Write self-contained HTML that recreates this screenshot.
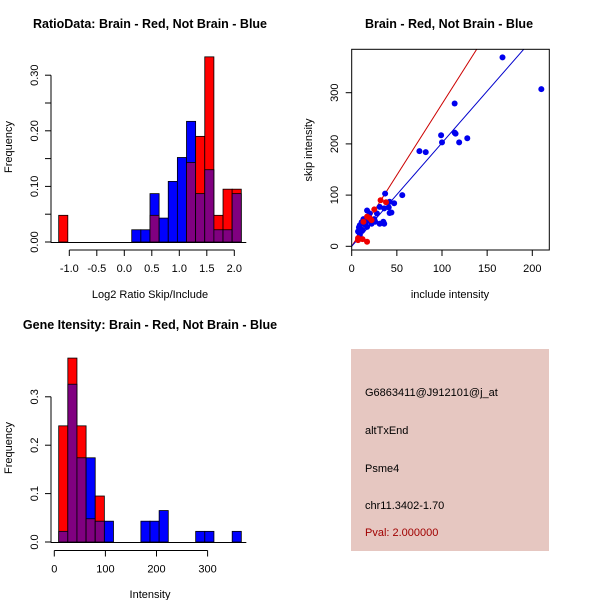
<!DOCTYPE html>
<html><head><meta charset="utf-8"><style>
body{margin:0;background:#fff}
svg{display:block;font-family:"Liberation Sans",sans-serif}
</style></head><body>
<svg id="s" width="600" height="600" xmlns="http://www.w3.org/2000/svg">
<rect width="600" height="600" fill="#fff"/>
<text x="150" y="28" font-size="12.5" font-weight="bold" text-anchor="middle">RatioData: Brain - Red, Not Brain - Blue</text>
<text x="449" y="28" font-size="12.5" font-weight="bold" text-anchor="middle">Brain - Red, Not Brain - Blue</text>
<text x="150" y="329" font-size="12.5" font-weight="bold" text-anchor="middle">Gene Itensity: Brain - Red, Not Brain - Blue</text>
<text x="150" y="298" font-size="11" text-anchor="middle">Log2 Ratio Skip/Include</text>
<text x="150" y="598" font-size="11" text-anchor="middle">Intensity</text>
<text x="450" y="298" font-size="11" text-anchor="middle">include intensity</text>
<text transform="translate(12,147) rotate(-90)" font-size="11" text-anchor="middle">Frequency</text>
<text transform="translate(12,448) rotate(-90)" font-size="11" text-anchor="middle">Frequency</text>
<text transform="translate(312,150) rotate(-90)" font-size="11" text-anchor="middle">skip intensity</text>
<g>
<rect x="351" y="349" width="198" height="202" fill="#e6c7c1"/>
<text x="365" y="396" font-size="11">G6863411@J912101@j_at</text>
<text x="365" y="434" font-size="11">altTxEnd</text>
<text x="365" y="472" font-size="11">Psme4</text>
<text x="365" y="509" font-size="11">chr11.3402-1.70</text>
<text x="365" y="536" font-size="11" fill="#a00000">Pval: 2.000000</text>
</g>
<g id="g1"></g><g id="g2"></g><g id="g3"></g>
</svg>
<script>
// Ratio histogram data
const ratioBinStart=-1.193, ratioBinWidth=0.166;
const ratioRed=[0.048,0,0,0,0,0,0,0,0,0,0.048,0,0,0,0.143,0.19,0.333,0.048,0.095,0.095];
const ratioBlue=[0,0,0,0,0,0,0,0,0.022,0.022,0.087,0.043,0.109,0.152,0.217,0.087,0.130,0.022,0.022,0.087];
const ratioXTicks=[-1.0,-0.5,0.0,0.5,1.0,1.5,2.0];
const ratioYTicks=[0,0.05,0.10,0.15,0.20,0.25,0.30];
const ratioYLabels=["0.00","","0.10","","0.20","","0.30"];
// Intensity histogram data
const intBinStart=8.6, intBinWidth=17.87;
const intRed=[0.24,0.38,0.24,0.048,0.095,0,0,0,0,0,0,0,0,0,0,0,0,0,0,0];
const intBlue=[0.022,0.326,0.174,0.174,0.043,0.043,0,0,0,0.043,0.043,0.065,0,0,0,0.022,0.022,0,0,0.022];
const intXTicks=[0,100,200,300];
const intYTicks=[0,0.1,0.2,0.3];
// Scatter data
const blueX=[167,210,114,99,100,114,115,119,128,75,82,56,37,42,47,41,44,42,31,36,35,36,31,28,25,20,17,16,13,11,9,8,7,9,12,15,18,22,12,10,17,26];
const blueY=[369,307,279,217,203,222,220,203,211,186,184,100,103,87,84,76,66,65,77,74,48,44,44,64,53,64,70,48,53,47,41,37,29,22,45,42,51,44,31,34,38,48];
const redX=[32,38,25,20,17,22,7,7,17,12,13];
const redY=[90,86,72,55,58,51,16,12,9,14,48];
const redSlope=2.78, blueSlope=2.02;
const scXTicks=[0,50,100,150,200];
const scYTicks=[0,100,200,300];

const NS="http://www.w3.org/2000/svg";
function mk(p,t,a){const e=document.createElementNS(NS,t);for(const k in a)e.setAttribute(k,a[k]);p.appendChild(e);return e;}
function hist(g,binStart,bw,red,blue,xs,ys,xTicks,yTicks,yLabels,axisY,tag){
  for(let i=0;i<red.length;i++){
    const r=red[i],b=blue[i];const x0=xs(binStart+i*bw),x1=xs(binStart+(i+1)*bw);
    const hi=Math.max(r,b),lo=Math.min(r,b);
    if(hi>0){const e=mk(g,'rect',{x:x0,y:ys(hi),width:x1-x0,height:ys(0)-ys(hi),fill:r>=b?'#ff0000':'#0000ff',stroke:'#000','stroke-width':0.8});
      
      }
    if(lo>0){const e=mk(g,'rect',{x:x0,y:ys(lo),width:x1-x0,height:ys(0)-ys(lo),fill:'#800080',stroke:'#000','stroke-width':0.8});
      
      }
  }
  const xl=xs(binStart),xr=xs(binStart+red.length*bw);
  mk(g,'line',{x1:xl-8,x2:xr+5,y1:ys(0)+0.5,y2:ys(0)+0.5,stroke:'#000'});
  mk(g,'line',{x1:xs(xTicks[0]),x2:xs(xTicks[xTicks.length-1]),y1:axisY,y2:axisY,stroke:'#000'});
  xTicks.forEach(v=>{mk(g,'line',{x1:xs(v),x2:xs(v),y1:axisY,y2:axisY+6,stroke:'#000'});
    const t=mk(g,'text',{x:xs(v),y:axisY+22,'font-size':11,'text-anchor':'middle'});t.textContent=v.toFixed(tag==='ratio'?1:0);
    
    });
  mk(g,'line',{x1:51,x2:51,y1:ys(yTicks[0]),y2:ys(yTicks[yTicks.length-1]),stroke:'#000'});
  yTicks.forEach((v,i)=>{mk(g,'line',{x1:45,x2:51,y1:ys(v),y2:ys(v),stroke:'#000'});
    const L=yLabels?yLabels[i]:v.toFixed(1);
    if(L){const t=mk(g,'text',{transform:`translate(38,${ys(v)}) rotate(-90)`,'font-size':11,'text-anchor':'middle'});t.textContent=L;
      
      }});
}
const g1=document.getElementById('g1');
hist(g1,ratioBinStart,ratioBinWidth,ratioRed,ratioBlue,v=>69.3+(v+1)*55,v=>242-v*556,ratioXTicks,ratioYTicks,ratioYLabels,250,'ratio');
const g2=document.getElementById('g2');
hist(g2,intBinStart,intBinWidth,intRed,intBlue,v=>54.3+v*0.511,v=>542-v*484,intXTicks,intYTicks,null,550.5,'intensity');

const g3=document.getElementById('g3');
const sx=v=>351.7+v*0.903, sy=v=>246.3-v*0.512;
const clip=mk(g3,'clipPath',{id:'cp'});mk(clip,'rect',{x:351.7,y:49.3,width:197.6,height:200.7});
const lr=mk(g3,'line',{x1:sx(-10),y1:sy(-10*redSlope),x2:sx(220),y2:sy(220*redSlope),stroke:'#cc0000','clip-path':'url(#cp)'});


const lb=mk(g3,'line',{x1:sx(-10),y1:sy(-10*blueSlope),x2:sx(220),y2:sy(220*blueSlope),stroke:'#0000cc','clip-path':'url(#cp)'});


blueX.forEach((x,i)=>{const c=mk(g3,'circle',{cx:sx(x),cy:sy(blueY[i]),r:3,fill:'#0000ee'});
  
  });
redX.forEach((x,i)=>{const c=mk(g3,'circle',{cx:sx(x),cy:sy(redY[i]),r:3,fill:'#ee0000'});
  
  });
const box=mk(g3,'rect',{x:351.7,y:49.3,width:197.6,height:200.7,fill:'none',stroke:'#000'});


scXTicks.forEach(v=>{mk(g3,'line',{x1:sx(v),x2:sx(v),y1:250,y2:256,stroke:'#000'});
  const t=mk(g3,'text',{x:sx(v),y:272,'font-size':11,'text-anchor':'middle'});t.textContent=v;
  
  });
scYTicks.forEach(v=>{mk(g3,'line',{x1:345.7,x2:351.7,y1:sy(v),y2:sy(v),stroke:'#000'});
  const t=mk(g3,'text',{transform:`translate(338,${sy(v)}) rotate(-90)`,'font-size':11,'text-anchor':'middle'});t.textContent=v;
  
  });
</script>
</body></html>
